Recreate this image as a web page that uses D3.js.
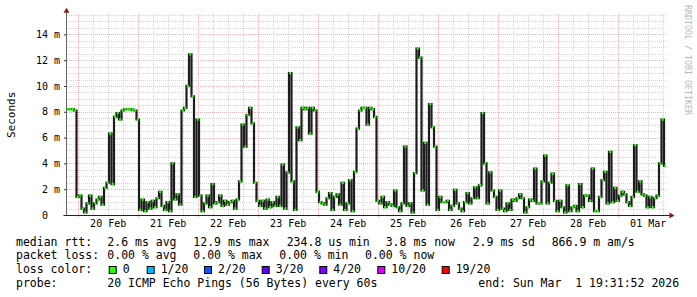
<!DOCTYPE html>
<html>
<head>
<meta charset="utf-8">
<script src="https://cdn.jsdelivr.net/npm/d3@7"></script>
<style>
body { margin: 0; background: #fff; }
text { font-family: "DejaVu Sans Mono", monospace; white-space: pre; }
</style>
</head>
<body>
<div id="viz"></div>
<script>
// 10 days of median rtt (ms), one value per hour, ending at endTime
const endTime = new Date(2026, 2, 1, 19, 31, 52)
const spanHours = 240
const medianRtt = [
  8.2, 8.2, 8.2, 8.1, 1.4, 1.5, 0.5, 0.2, 0.9, 1.5,
  0.5, 0.9, 1.2, 1.4, 0.8, 2.1, 2.5, 6.3, 2.4, 7.6,
  7.9, 7.4, 8.1, 8.2, 8.2, 8.2, 8.15, 8.1, 7.4, 0.4,
  1.2, 0.3, 1.0, 0.5, 1.1, 0.6, 1.3, 1.8, 0.7, 0.4,
  1.0, 0.3, 4.0, 1.2, 1.6, 0.8, 8.1, 8.3, 10.0, 12.45,
  9.2, 1.4, 7.4, 1.5, 0.3, 0.9, 1.5, 0.6, 2.4, 0.9,
  1.0, 1.5, 0.7, 1.1, 0.8, 1.0, 1.1, 0.5, 1.2, 2.6,
  7.0, 5.3, 7.75, 8.3, 7.1, 2.5, 1.1, 0.7, 1.1, 0.5,
  1.2, 0.6, 1.0, 0.7, 1.4, 0.7, 3.9, 0.5, 3.3, 11.0,
  2.6, 0.4, 6.8, 5.8, 8.3, 8.2, 8.3, 6.3, 8.3, 8.1,
  1.8, 1.0, 0.9, 0.8, 1.3, 1.7, 0.4, 1.4, 1.6, 0.8,
  2.5, 0.4, 0.9, 2.7, 0.3, 3.35, 6.7, 8.1, 8.3, 8.3,
  7.0, 8.3, 8.2, 7.6, 1.1, 0.9, 1.4, 0.6, 1.0, 0.8,
  0.7, 1.9, 0.6, 0.3, 0.9, 5.3, 0.7, 0.9, 0.2, 3.25,
  12.9, 12.2, 1.9, 5.6, 0.8, 8.6, 6.8, 5.3, 0.4, 1.4,
  1.0, 1.0, 1.1, 0.4, 0.7, 1.95, 0.9, 0.5, 0.3, 1.0,
  1.7, 0.9, 1.3, 2.15, 1.3, 2.3, 7.9, 4.0, 0.9, 3.3,
  1.9, 1.4, 0.4, 1.9, 0.5, 0.3, 0.9, 0.4, 1.2, 1.1,
  1.3, 1.6, 1.3, 0.2, 0.6, 1.2, 1.1, 3.6, 0.9, 0.9,
  2.6, 4.6, 0.9, 2.5, 3.2, 1.1, 0.3, 1.1, 0.6, 0.2,
  2.3, 0.3, 0.6, 0.7, 0.3, 2.4, 0.6, 1.5, 1.5, 1.1,
  3.6, 0.3, 0.3, 1.4, 2.7, 3.35, 0.9, 4.9, 1.0, 2.1,
  1.1, 1.5, 1.8, 1.6, 1.0, 0.7, 1.4, 5.4, 1.8, 2.6,
  1.6, 1.5, 0.6, 1.4, 0.6, 1.3, 1.5, 4.0, 7.4, 3.8
]
const yTicks = [0, 2, 4, 6, 8, 10, 12, 14]
const yMax = 15.6

const rttRow = ["median rtt:", "2.6 ms avg", "12.9 ms max", "234.8 us min", "3.8 ms now", "2.9 ms sd", "866.9 m am/s"]
const lossRow = ["packet loss:", "0.00 % avg", "0.00 % max", "0.00 % min", "0.00 % now"]
const lossLabels = ["0", "1/20", "2/20", "3/20", "4/20", "10/20", "19/20"]
const lossColors = ["#26ff00", "#00b8ff", "#0059ff", "#5e00ff", "#7e00ff", "#dd00ff", "#ff0000"]
const probeRow = ["probe:", "20 ICMP Echo Pings (56 Bytes) every 60s", "end: Sun Mar  1 19:31:52 2026"]

const width = 697
const height = 297
const plot = {left: 66.5, right: 666.5, top: 13.7, bottom: 215}

const startTime = d3.timeHour.offset(endTime, -spanHours)
const points = medianRtt.map((v, i) => ({t: d3.timeHour.offset(startTime, i), v}))

const svg = d3.select("#viz").append("svg")
    .attr("width", width).attr("height", height)

const x = d3.scaleTime().domain([startTime, endTime]).range([plot.left, plot.right])
const y = d3.scaleLinear().domain([0, yMax]).range([plot.bottom, plot.top])

// grid
const grid = svg.append("g").attr("shape-rendering", "crispEdges")
const minorY = d3.range(0.5, yMax, 0.5).filter(v => v % 2 !== 0)
const majorY = yTicks.filter(v => v > 0)
const sixHours = d3.timeHour.every(6).range(startTime, endTime).filter(d => d.getHours() !== 0)
const days = d3.timeDay.range(startTime, endTime)

grid.selectAll(".hmin").data(minorY).join("line")
    .attr("x1", plot.left).attr("x2", plot.right)
    .attr("y1", d => Math.round(y(d)) + 0.5).attr("y2", d => Math.round(y(d)) + 0.5)
    .attr("stroke", "#d6d6d6").attr("stroke-dasharray", "1,1")
grid.selectAll(".vmin").data(sixHours).join("line")
    .attr("x1", d => Math.round(x(d)) + 0.5).attr("x2", d => Math.round(x(d)) + 0.5)
    .attr("y1", plot.top).attr("y2", plot.bottom)
    .attr("stroke", "#d6d6d6").attr("stroke-dasharray", "1,1")
grid.selectAll(".hmaj").data(majorY).join("line")
    .attr("x1", plot.left).attr("x2", plot.right)
    .attr("y1", d => Math.round(y(d)) + 0.5).attr("y2", d => Math.round(y(d)) + 0.5)
    .attr("stroke", "#efb4b4").attr("stroke-dasharray", "1,1")
grid.selectAll(".vmaj").data(days).join("line")
    .attr("x1", d => Math.round(x(d)) + 0.5).attr("x2", d => Math.round(x(d)) + 0.5)
    .attr("y1", plot.top).attr("y2", plot.bottom + 3)
    .attr("stroke", "#efb4b4").attr("stroke-dasharray", "1,1")

// median line: black steps, green caps (0 loss)
svg.append("clipPath").attr("id", "clip").append("rect")
    .attr("x", plot.left).attr("y", plot.top - 5)
    .attr("width", plot.right - plot.left).attr("height", plot.bottom - plot.top + 5)

const data = svg.append("g").attr("clip-path", "url(#clip)")
const step = x(points[1].t) - x(points[0].t)

const line = d3.line()
    .x(d => x(d.t) + step / 2)
    .y(d => y(d.v))
    .curve(d3.curveStep)

data.append("path")
    .datum(points)
    .attr("d", line)
    .attr("fill", "none")
    .attr("stroke", "#1c1c1c")
    .attr("stroke-width", 2.2)

data.selectAll(".cap").data(points).join("line")
    .attr("x1", d => x(d.t) + 0.2).attr("x2", d => x(d.t) + step - 0.2)
    .attr("y1", d => y(d.v)).attr("y2", d => y(d.v))
    .attr("stroke", lossColors[0])
    .attr("stroke-width", 2.4)

// axes
const yAxis = d3.axisLeft(y).tickValues(yTicks).tickSize(3).tickPadding(4)
    .tickFormat(d => d === 0 ? "0  " : d + " m")
const gy = svg.append("g").attr("transform", `translate(${plot.left + 0.5},0)`).call(yAxis)
gy.select(".domain").remove()
gy.selectAll("line").attr("stroke", "#333")
gy.selectAll("text").attr("font-size", 10).attr("fill", "#000").attr("xml:space", "preserve")
    .style("font-family", '"DejaVu Sans Mono", monospace')

const noons = days.map(d => d3.timeHour.offset(d, 12))
const xAxis = d3.axisBottom(x).tickValues(noons).tickSize(0).tickPadding(5)
    .tickFormat(d3.timeFormat("%d %b"))
const gx = svg.append("g").attr("transform", `translate(0,${plot.bottom})`).call(xAxis)
gx.select(".domain").remove()
gx.selectAll("text").attr("font-size", 10).attr("fill", "#000")
    .style("font-family", '"DejaVu Sans Mono", monospace')

svg.append("line")
    .attr("x1", plot.left).attr("x2", plot.left)
    .attr("y1", plot.bottom).attr("y2", plot.top - 4)
    .attr("stroke", "#666").attr("stroke-width", 1)
svg.append("line")
    .attr("x1", plot.left - 3).attr("x2", plot.right + 4)
    .attr("y1", plot.bottom + 0.5).attr("y2", plot.bottom + 0.5)
    .attr("stroke", "#222").attr("stroke-width", 1)

// axis arrows
svg.append("path")
    .attr("d", `M${plot.left},${plot.top - 6} L${plot.left - 3},${plot.top - 1} L${plot.left + 3},${plot.top - 1} Z`)
    .attr("fill", "#8f1a1a")
svg.append("path")
    .attr("d", `M${plot.right + 8},${plot.bottom + 0.5} L${plot.right + 3},${plot.bottom - 2.5} L${plot.right + 3},${plot.bottom + 3.5} Z`)
    .attr("fill", "#8f1a1a")

// axis title + watermark
svg.append("text")
    .attr("transform", `translate(11,${(plot.top + plot.bottom) / 2 + 0.5}) rotate(-90)`)
    .attr("text-anchor", "middle").attr("dominant-baseline", "central")
    .attr("font-size", 11).attr("fill", "#000")
    .text("Seconds")
svg.append("text")
    .attr("transform", "translate(684.5,5) rotate(90)")
    .attr("font-size", 8.3).attr("fill", "#b8b8b8")
    .text("RRDTOOL / TOBI OETIKER")

// legend
const legend = svg.append("g").attr("font-size", 11.5).attr("fill", "#000")
const rowY = [245.5, 259.2, 273, 286.7]

legend.selectAll(".r1").data(rttRow).join("text")
    .attr("x", (d, i) => [16, 107.3, 193.3, 286.7, 385.7, 472.7, 551.7][i])
    .attr("y", rowY[0]).text(d => d)
legend.selectAll(".r2").data(lossRow).join("text")
    .attr("x", (d, i) => [16, 107.3, 193.3, 279.3, 365][i])
    .attr("y", rowY[1]).text(d => d)
legend.append("text").attr("x", 16).attr("y", rowY[2]).text("loss color:")

const boxX = [108.7, 146.7, 204, 261.7, 319.3, 377.3, 441.7]
const items = legend.selectAll(".loss").data(lossLabels).join("g")
    .attr("transform", (d, i) => `translate(${boxX[i]},0)`)
items.append("rect")
    .attr("x", 0.5).attr("y", 266.5).attr("width", 7).attr("height", 7)
    .attr("fill", (d, i) => lossColors[i]).attr("stroke", "#000").attr("stroke-width", 1)
items.append("text").attr("x", 14).attr("y", rowY[2]).text(d => d)

legend.selectAll(".r4").data(probeRow).join("text")
    .attr("x", (d, i) => [16, 107.3, 478.3][i])
    .attr("y", rowY[3]).text(d => d)
</script>
</body>
</html>
